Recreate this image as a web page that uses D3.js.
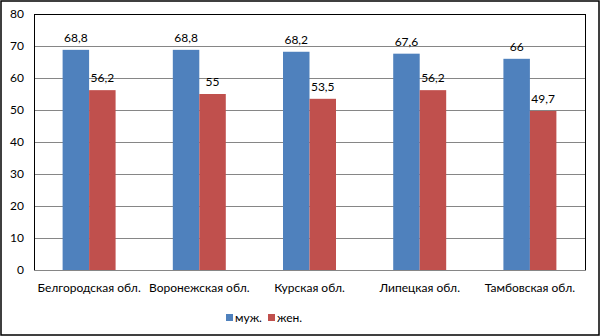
<!DOCTYPE html>
<html>
<head>
<meta charset="utf-8">
<script src="https://cdn.jsdelivr.net/npm/d3@7"></script>
<style>
  html, body { margin: 0; padding: 0; background: #fff; }
  svg { display: block; font-family: Lato, "Open Sans", sans-serif; }
</style>
</head>
<body>
<svg id="chart" width="600" height="336"></svg>
<script>
// Life expectancy by region, men and women
const regions = ["Белгородская обл.", "Воронежская обл.", "Курская обл.", "Липецкая обл.", "Тамбовская обл."];
const men = [68.8, 68.8, 68.2, 67.6, 66];
const women = [56.2, 55, 53.5, 56.2, 49.7];
const seriesNames = ["муж.", "жен."];
const seriesColors = ["#4f81bd", "#c0504d"];
const yTicks = [0, 10, 20, 30, 40, 50, 60, 70, 80];

const svg = d3.select("#chart");
const W = 600, H = 336;
const plot = { left: 34, top: 14, right: 585, bottom: 270 };
const FONT = "Lato, 'Open Sans', sans-serif";

// outer frame
svg.append("rect").attr("x", 1).attr("y", 1).attr("width", W - 2).attr("height", H - 2)
  .attr("fill", "#fff").attr("stroke", "#000").attr("stroke-width", 1.5);

const x0 = d3.scaleBand().domain(regions).range([plot.left, plot.right]).paddingInner(0).paddingOuter(0);
const x1 = d3.scaleBand().domain(seriesNames).range([0, x0.bandwidth()]).paddingInner(0).paddingOuter(1.08);
const y = d3.scaleLinear().domain([0, 80]).range([plot.bottom, plot.top]);

// gridlines
svg.append("g").selectAll("line").data(yTicks.filter(t => t > 0 && t < 80)).join("line")
  .attr("x1", plot.left).attr("x2", plot.right)
  .attr("y1", d => y(d) + 0.5).attr("y2", d => y(d) + 0.5)
  .attr("stroke", "#868686").attr("stroke-width", 1);

// plot frame
svg.append("rect").attr("x", plot.left + 0.5).attr("y", plot.top + 0.5)
  .attr("width", plot.right - plot.left).attr("height", plot.bottom - plot.top)
  .attr("fill", "none").attr("stroke", "#000").attr("stroke-width", 1);
svg.append("line").attr("x1", plot.left).attr("x2", plot.right + 1)
  .attr("y1", plot.bottom + 0.5).attr("y2", plot.bottom + 0.5)
  .attr("stroke", "#868686");

// y axis labels
const yAxis = d3.axisLeft(y).tickValues(yTicks).tickSize(0).tickPadding(10);
const gy = svg.append("g").attr("transform", `translate(${plot.left},0)`).call(yAxis);
gy.select(".domain").remove();
gy.selectAll("text").attr("font-size", 12).attr("fill", "#000").attr("font-family", FONT);

// x axis labels
const xAxis = d3.axisBottom(x0).tickSize(0).tickPadding(13);
const gx = svg.append("g").attr("transform", `translate(0,${plot.bottom})`).call(xAxis);
gx.select(".domain").remove();
gx.selectAll("text").attr("font-size", 12).attr("fill", "#000").attr("font-family", FONT);

// bars
const rows = regions.map((r, i) => ({ region: r, values: [men[i], women[i]] }));
const fmt = v => String(v).replace(".", ",");
const groups = svg.append("g").selectAll("g").data(rows).join("g")
  .attr("transform", d => `translate(${x0(d.region)},0)`);
groups.selectAll("rect").data(d => d.values.map((v, k) => ({ v, k }))).join("rect")
  .attr("x", d => x1(seriesNames[d.k]))
  .attr("width", x1.bandwidth())
  .attr("y", d => y(d.v))
  .attr("height", d => y(0) - y(d.v))
  .attr("fill", d => seriesColors[d.k]);
groups.selectAll("text").data(d => d.values.map((v, k) => ({ v, k }))).join("text")
  .attr("x", d => x1(seriesNames[d.k]) + x1.bandwidth() / 2)
  .attr("y", d => y(d.v) - 8)
  .attr("text-anchor", "middle")
  .attr("font-size", 12).attr("fill", "#000").attr("font-family", FONT)
  .text(d => fmt(d.v));

// legend
const legend = svg.append("g").attr("transform", "translate(226,314)");
const items = legend.selectAll("g").data(seriesNames).join("g")
  .attr("transform", (d, i) => `translate(${i * 42},0)`);
items.append("rect").attr("width", 7).attr("height", 7).attr("fill", (d, i) => seriesColors[i]);
items.append("text").attr("x", 9).attr("y", 8).attr("font-size", 12).attr("fill", "#000")
  .attr("font-family", FONT).text(d => d);
</script>
</body>
</html>
